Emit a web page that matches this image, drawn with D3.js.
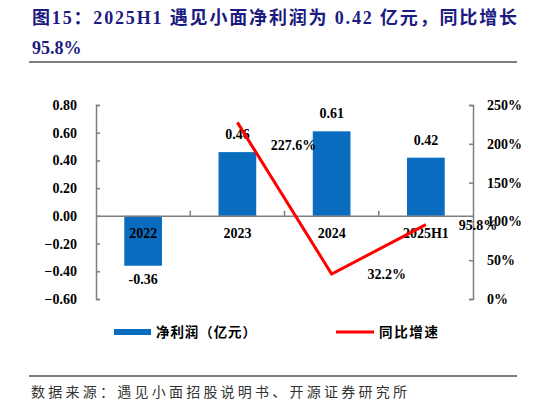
<!DOCTYPE html>
<html>
<head>
<meta charset="utf-8">
<script src="https://cdn.jsdelivr.net/npm/d3@7"></script>
<style>
  body { margin: 0; background: #fff; }
</style>
</head>
<body>
<div id="chart"></div>
<script>
// Data
//=====================================================================
var categories = ["2022", "2023", "2024", "2025H1"];
var profit = [-0.36, 0.46, 0.61, 0.42];          // 净利润（亿元）
var growthCats = ["2023", "2024", "2025H1"];
var growth = [227.6, 32.2, 95.8];                // 同比增速 (%)
var leftTicks = [0.8, 0.6, 0.4, 0.2, 0, -0.2, -0.4, -0.6];
var rightTicks = [0, 50, 100, 150, 200, 250];

var svgWidth = 546;
var svgHeight = 405;

var svg = d3.select("#chart")
    .append("svg")
    .attr("width", svgWidth)
    .attr("height", svgHeight);

var serif = "'Liberation Serif', 'Times New Roman', serif";
var cjk = "'Noto Sans CJK SC', sans-serif";

// Title
//=====================================================================
svg.append("text")
    .attr("x", 32)
    .attr("y", 24)
    .attr("textLength", 485)
    .attr("lengthAdjust", "spacing")
    .style("font", "bold 18px " + serif + ", " + cjk)
    .style("fill", "#1b1b80")
    .text("图15：2025H1 遇见小面净利润为 0.42 亿元，同比增长");

svg.append("text")
    .attr("x", 32)
    .attr("y", 54)
    .style("font", "bold 18px " + serif)
    .style("fill", "#1b1b80")
    .text("95.8%");

svg.append("line")
    .attr("x1", 29).attr("x2", 517)
    .attr("y1", 62).attr("y2", 62)
    .attr("stroke", "#000").attr("stroke-width", 1.2);

// Scales
//=====================================================================
var plotLeft = 96, plotRight = 473, plotTop = 105, plotBottom = 299;

var xScale = d3.scaleBand()
    .domain(categories)
    .range([plotLeft, plotRight]);

var yLeft = d3.scaleLinear()
    .domain([-0.6, 0.8])
    .range([plotBottom, plotTop]);

var yRight = d3.scaleLinear()
    .domain([0, 250])
    .range([plotBottom, plotTop]);

var axisColor = "#7f7f7f";

// Left axis
var leftAxis = svg.append("g")
    .attr("transform", `translate(${plotLeft},0)`)
    .call(d3.axisLeft(yLeft).tickValues(leftTicks).tickSize(-4).tickPadding(19)
        .tickFormat(d3.format(".2f")));
leftAxis.select(".domain").attr("stroke", axisColor).attr("stroke-width", 1.5);
leftAxis.selectAll(".tick line").attr("stroke", axisColor).attr("stroke-width", 1.5);
leftAxis.selectAll("text")
    .style("font", "bold 14px " + serif)
    .style("fill", "#000");

// Right axis
var rightAxis = svg.append("g")
    .attr("transform", `translate(${plotRight},0)`)
    .call(d3.axisRight(yRight).tickValues(rightTicks).tickSize(-4).tickPadding(14)
        .tickFormat(d => d + "%"));
rightAxis.select(".domain").attr("stroke", axisColor).attr("stroke-width", 1.5);
rightAxis.selectAll(".tick line").attr("stroke", axisColor).attr("stroke-width", 1.5);
rightAxis.selectAll("text")
    .style("font", "bold 14px " + serif)
    .style("fill", "#000");

// Bars
//=====================================================================
var barW = xScale.bandwidth() * 0.4;
svg.append("g")
    .selectAll("rect")
    .data(profit)
    .enter()
    .append("rect")
    .attr("x", (d, i) => xScale(categories[i]) + (xScale.bandwidth() - barW) / 2)
    .attr("y", d => yLeft(Math.max(0, d)))
    .attr("width", barW)
    .attr("height", d => Math.abs(yLeft(d) - yLeft(0)))
    .attr("fill", "#0a6cbf");

// Category axis at zero
var catAxis = svg.append("g")
    .attr("transform", `translate(0,${yLeft(0)})`)
    .call(d3.axisBottom(xScale).tickSize(0).tickPadding(12));
catAxis.select(".domain").attr("stroke", axisColor).attr("stroke-width", 1.5);
catAxis.selectAll("text")
    .style("font", "bold 14px " + serif)
    .style("fill", "#000");

// Category tick marks between bands, pointing up
svg.append("g")
    .selectAll("line")
    .data(categories.slice(1))
    .enter()
    .append("line")
    .attr("x1", d => xScale(d)).attr("x2", d => xScale(d))
    .attr("y1", yLeft(0) - 5).attr("y2", yLeft(0))
    .attr("stroke", axisColor).attr("stroke-width", 1.5);

// Bar value labels
svg.append("g")
    .selectAll("text")
    .data(profit)
    .enter()
    .append("text")
    .attr("x", (d, i) => xScale(categories[i]) + xScale.bandwidth() / 2)
    .attr("y", d => d < 0 ? yLeft(d) + 18 : yLeft(d) - 13)
    .attr("text-anchor", "middle")
    .style("font", "bold 14px " + serif)
    .style("fill", "#000")
    .text(d => d.toFixed(2));

// Growth line
//=====================================================================
var line = d3.line()
    .x((d, i) => xScale(growthCats[i]) + xScale.bandwidth() / 2)
    .y(d => yRight(d));

svg.append("path")
    .datum(growth)
    .attr("d", line)
    .attr("fill", "none")
    .attr("stroke", "#ff0000")
    .attr("stroke-width", 3);

var growthOffsets = [[56, 28], [55, 5], [52, 5]];
svg.append("g")
    .selectAll("text")
    .data(growth)
    .enter()
    .append("text")
    .attr("x", (d, i) => xScale(growthCats[i]) + xScale.bandwidth() / 2 + growthOffsets[i][0])
    .attr("y", (d, i) => yRight(d) + growthOffsets[i][1])
    .attr("text-anchor", "middle")
    .style("font", "bold 14px " + serif)
    .style("fill", "#000")
    .text(d => d.toFixed(1) + "%");

// Legend
//=====================================================================
svg.append("rect")
    .attr("x", 114).attr("y", 329)
    .attr("width", 37).attr("height", 6)
    .attr("fill", "#0a6cbf");
svg.append("text")
    .attr("x", 156).attr("y", 337)
    .attr("textLength", 100)
    .attr("lengthAdjust", "spacing")
    .style("font", "bold 13.5px " + cjk)
    .style("fill", "#000")
    .text("净利润（亿元）");

svg.append("line")
    .attr("x1", 336).attr("x2", 374)
    .attr("y1", 332).attr("y2", 332)
    .attr("stroke", "#ff0000").attr("stroke-width", 3);
svg.append("text")
    .attr("x", 379).attr("y", 337)
    .attr("textLength", 59)
    .attr("lengthAdjust", "spacing")
    .style("font", "bold 13.5px " + cjk)
    .style("fill", "#000")
    .text("同比增速");

// Footer
//=====================================================================
svg.append("line")
    .attr("x1", 29).attr("x2", 517)
    .attr("y1", 376).attr("y2", 376)
    .attr("stroke", "#000").attr("stroke-width", 1.2);

svg.append("text")
    .attr("x", 31).attr("y", 397)
    .attr("textLength", 376)
    .attr("lengthAdjust", "spacing")
    .style("font", "14px " + cjk)
    .style("fill", "#333")
    .text("数据来源：遇见小面招股说明书、开源证券研究所");
</script>
</body>
</html>
